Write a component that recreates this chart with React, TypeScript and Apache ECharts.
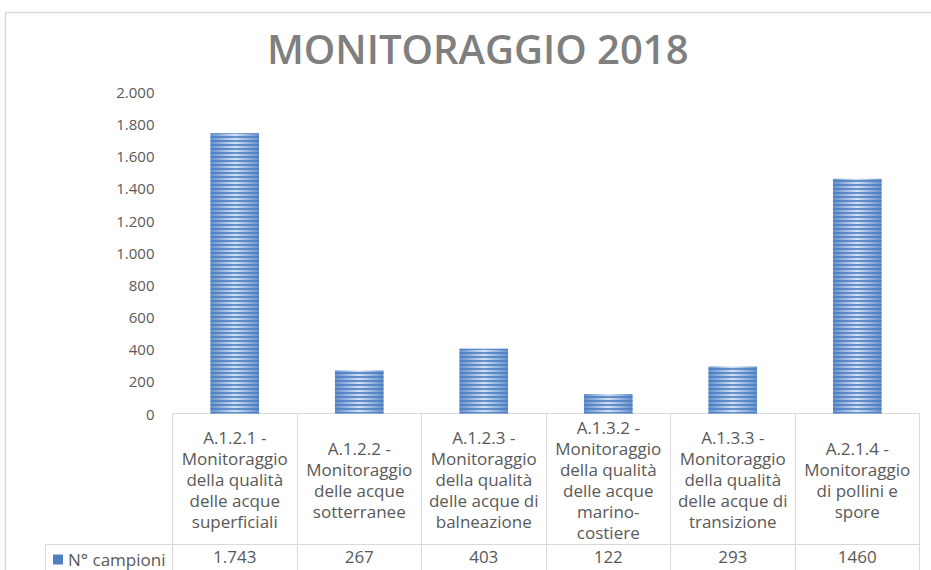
import React, { useEffect, useRef } from "react";
import * as echarts from "echarts";

const categories = [
  "A.1.2.1 -\nMonitoraggio\ndella qualità\ndelle acque\nsuperficiali",
  "A.1.2.2 -\nMonitoraggio\ndelle acque\nsotterranee",
  "A.1.2.3 -\nMonitoraggio\ndella qualità\ndelle acque di\nbalneazione",
  "A.1.3.2 -\nMonitoraggio\ndella qualità\ndelle acque\nmarino-\ncostiere",
  "A.1.3.3 -\nMonitoraggio\ndella qualità\ndelle acque di\ntransizione",
  "A.2.1.4 -\nMonitoraggio\ndi pollini e\nspore",
];
const campioni = [1743, 267, 403, 122, 293, 1460];
const tableLabels = ["1.743", "267", "403", "122", "293", "1460"];
const seriesName = "N° campioni";
const titleText = "MONITORAGGIO 2018";

const GRID_LEFT = 172.5;
const GRID_RIGHT_X = 919.5;
const GRID_TOP = 92;
const AXIS_Y = 413.5;
const ROW_Y = 544.5;
const LEGEND_LEFT = 45.5;
const H = 570;
const W = 931;

const FONT = "'Open Sans', 'DejaVu Sans', sans-serif";
const LINE = "#d9d9d9";
const TEXT = "#595959";

export default function App() {
  const ref = useRef<HTMLDivElement>(null);
  useEffect(() => {
    if (!ref.current) return;
    const chart = echarts.init(ref.current, undefined, { renderer: "svg" });
    chart.setOption({
      animation: false,
      backgroundColor: "#ffffff",
      title: {
        text: titleText,
        left: 262,
        top: 23,
        textStyle: {
          fontFamily: FONT,
          fontSize: 40,
          fontWeight: 600,
          color: "#7f7f7f",
        },
      },
      legend: {
        show: true,
        left: 53,
        top: 551,
        padding: 0,
        itemWidth: 10,
        itemHeight: 10,
        itemGap: 6,
        icon: "rect",
        itemStyle: { color: "#4f81bd", decal: "none" },
        textStyle: { fontFamily: FONT, fontSize: 17, color: TEXT },
        data: [seriesName],
      },
      grid: {
        left: GRID_LEFT,
        right: W - GRID_RIGHT_X,
        top: GRID_TOP,
        bottom: H - AXIS_Y,
        containLabel: false,
      },
      xAxis: [
        {
          type: "category",
          data: categories,
          position: "bottom",
          axisLine: { show: true, lineStyle: { color: LINE, width: 1 } },
          axisTick: {
            show: true,
            interval: 0,
            length: H - AXIS_Y,
            lineStyle: { color: LINE, width: 1 },
          },
          axisLabel: {
            interval: 0,
            margin: 66,
            verticalAlign: "middle",
            lineHeight: 21,
            fontFamily: FONT,
            fontSize: 17,
            color: TEXT,
          },
          splitLine: { show: false },
        },
        {
          type: "category",
          data: tableLabels,
          position: "bottom",
          axisLine: { show: false },
          axisTick: { show: false },
          axisLabel: {
            interval: 0,
            margin: 143,
            verticalAlign: "middle",
            fontFamily: FONT,
            fontSize: 17,
            color: TEXT,
          },
          splitLine: { show: false },
        },
      ],
      yAxis: {
        type: "value",
        min: 0,
        max: 2000,
        interval: 200,
        axisLine: { show: false },
        axisTick: { show: false },
        splitLine: { show: false },
        axisLabel: {
          margin: 18,
          fontFamily: FONT,
          fontSize: 15,
          color: TEXT,
          formatter: (v: number) =>
            String(v).replace(/\B(?=(\d{3})+(?!\d))/g, "."),
        },
      },
      series: [
        {
          name: seriesName,
          type: "bar",
          xAxisIndex: 0,
          data: campioni,
          barWidth: "39%",
          itemStyle: {
            color: {
              type: "linear",
              x: 0,
              y: 0,
              x2: 1,
              y2: 0,
              colorStops: [
                { offset: 0, color: "#6690cb" },
                { offset: 0.5, color: "#d3e1f4" },
                { offset: 1, color: "#6690cb" },
              ],
            },
            decal: {
              symbol: "rect",
              symbolSize: 1,
              dashArrayX: [1, 0],
              dashArrayY: [2, 2],
              rotation: 0,
              color: "rgba(74,124,192,0.8)",
            },
          },
        },
      ],
      graphic: [
        {
          type: "rect",
          silent: true,
          shape: { x: 5.5, y: 12.5, width: 2000, height: 2000 },
          style: { fill: "none", stroke: LINE, lineWidth: 1.5 },
          z: -10,
        },
        {
          type: "line",
          silent: true,
          shape: { x1: LEGEND_LEFT, y1: ROW_Y, x2: GRID_RIGHT_X, y2: ROW_Y },
          style: { stroke: LINE, lineWidth: 1 },
        },
        {
          type: "line",
          silent: true,
          shape: { x1: LEGEND_LEFT, y1: ROW_Y, x2: LEGEND_LEFT, y2: H },
          style: { stroke: LINE, lineWidth: 1 },
        },
      ],
    });
    return () => chart.dispose();
  }, []);
  return (
    <div
      ref={ref}
      style={{ position: "fixed", left: 0, top: 0, width: W, height: H }}
    />
  );
}
